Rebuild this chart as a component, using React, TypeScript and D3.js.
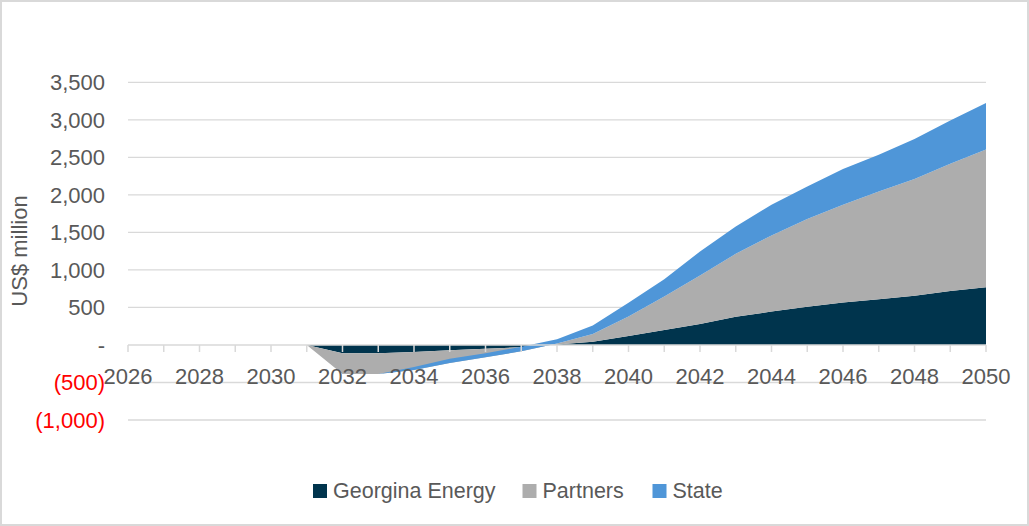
import { area, format, scaleLinear, stack } from "d3";

const years = [
  2026, 2027, 2028, 2029, 2030, 2031, 2032, 2033, 2034, 2035, 2036, 2037, 2038,
  2039, 2040, 2041, 2042, 2043, 2044, 2045, 2046, 2047, 2048, 2049, 2050,
];
const georgina = [
  0, 0, 0, 0, 0, 0, -110, -110, -95, -70, -50, -30, 5, 44, 120, 200, 280, 375,
  445, 510, 565, 610, 655, 720, 770,
];
const partners = [
  0, 0, 0, 0, 0, 0, -277, -277, -239, -170, -115, -55, 15, 101, 258, 445, 645,
  840, 1015, 1168, 1304, 1437, 1557, 1697, 1834,
];
const state = [
  0, 0, 0, 0, 0, 0, 0, 0, 40, 55, 55, 60, 56, 115, 185, 232, 321, 365, 409,
  436, 477, 490, 534, 574, 623,
];
const seriesNames = ["Georgina Energy", "Partners", "State"];
const colors = ["#00344D", "#ADADAD", "#4F96D8"];
const yTicks = [-1000, -500, 0, 500, 1000, 1500, 2000, 2500, 3000, 3500];
const xLabelYears = [2026, 2028, 2030, 2032, 2034, 2036, 2038, 2040, 2042, 2044, 2046, 2048, 2050];

const width = 1029;
const height = 526;
const font = "'Liberation Sans', Arial, sans-serif";
const textColor = "#595959";
const gridColor = "#D9D9D9";

const fmt = format(",");
const yLabel = (v: number) => (v === 0 ? "-" : v < 0 ? `(${fmt(-v)})` : fmt(v));

export default function App() {
  const x = scaleLinear([2026, 2050], [128, 986]);
  const y = scaleLinear([-1000, 3500], [420, 82.4]);

  const rows = years.map((yr, i) => ({
    year: yr,
    "Georgina Energy": georgina[i],
    Partners: partners[i],
    State: state[i],
  }));
  // Excel-style stacking: plain cumulative sums, whatever the sign
  const layers = stack<any>().keys(seriesNames)(rows);
  const shape = area<any>()
    .x((d) => x(d.data.year))
    .y0((d) => y(d[0]))
    .y1((d) => y(d[1]));

  const legendX = [313, 522.5, 652.5];

  return (
    <svg
      width={width}
      height={height}
      style={{ position: "absolute", left: 0, top: 0, background: "#fff" }}
      fontFamily={font}
    >
      <rect x={1} y={1} width={width - 2} height={height - 2} fill="#fff" stroke={gridColor} strokeWidth={2} />

      {yTicks
        .filter((v) => v !== 0)
        .map((v) => (
          <line key={v} x1={x(2026)} x2={x(2050)} y1={y(v)} y2={y(v)} stroke={gridColor} strokeWidth={1.3} />
        ))}

      {layers.map((l, i) => (
        <path key={l.key} d={shape(l) ?? ""} fill={colors[i]} />
      ))}

      <line x1={x(2026)} x2={x(2050)} y1={y(0)} y2={y(0)} stroke={gridColor} strokeWidth={1.5} />
      {years.map((yr) => (
        <line key={yr} x1={x(yr)} x2={x(yr)} y1={y(0)} y2={y(0) + 7} stroke={gridColor} strokeWidth={1.5} />
      ))}

      {xLabelYears.map((yr) => (
        <text key={yr} x={x(yr)} y={384} textAnchor="middle" fontSize={22} fill={textColor}>
          {yr}
        </text>
      ))}

      {yTicks.map((v) => (
        <text
          key={v}
          x={105}
          y={y(v)}
          dy="0.35em"
          textAnchor="end"
          fontSize={22}
          fill={v < 0 ? "#FF0000" : textColor}
        >
          {yLabel(v)}
        </text>
      ))}

      <text
        transform="translate(27,251) rotate(-90)"
        textAnchor="middle"
        fontSize={22}
        fill={textColor}
      >
        US$ million
      </text>

      {seriesNames.map((name, i) => (
        <g key={name} transform={`translate(${legendX[i]},484)`}>
          <rect width={14} height={14} fill={colors[i]} />
          <text x={20} y={14} fontSize={21.5} fill={textColor}>
            {name}
          </text>
        </g>
      ))}
    </svg>
  );
}
